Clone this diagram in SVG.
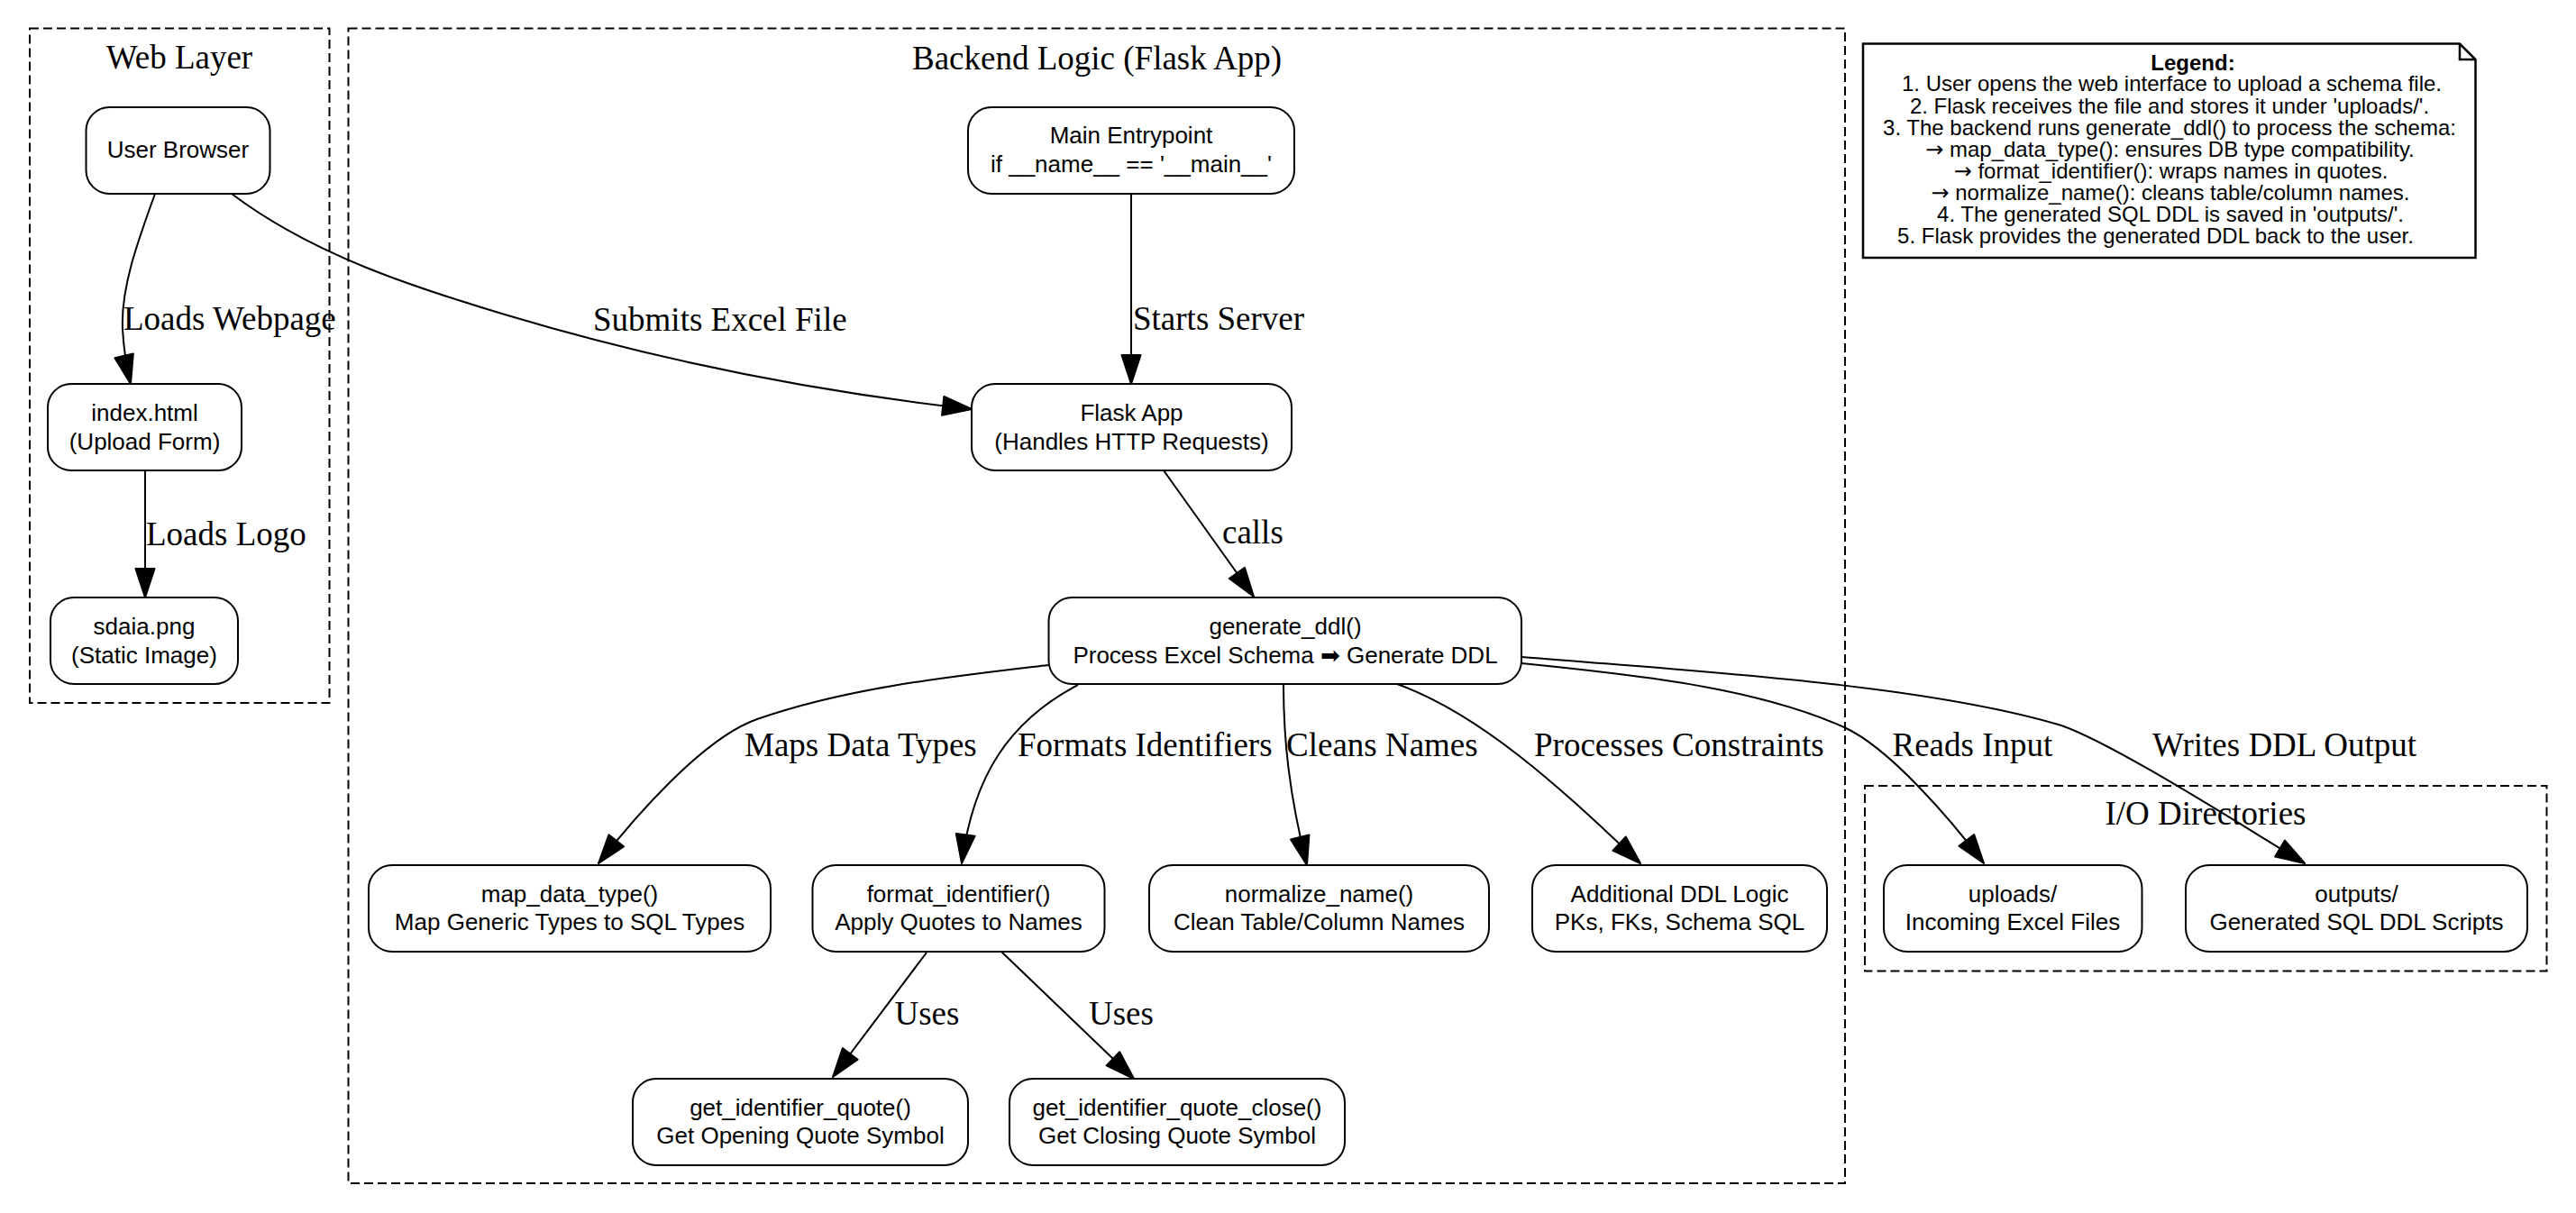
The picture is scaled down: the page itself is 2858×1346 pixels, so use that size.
<svg xmlns="http://www.w3.org/2000/svg" width="2858" height="1346" viewBox="0 0 2858 1346">
<defs>
<style>
.bg{fill:#fff}
.cl{fill:none;stroke:#000;stroke-width:2;stroke-dasharray:10,5}
.ct{font-family:"Liberation Serif","Times New Roman",serif;font-size:37px;text-anchor:middle;fill:#000}
.nd rect{fill:#fff;stroke:#000;stroke-width:2}
.nt{font-family:"Liberation Sans",Arial,"DejaVu Sans",sans-serif;font-size:26px;text-anchor:middle;fill:#000}
.ed{fill:none;stroke:#000;stroke-width:2;marker-end:url(#arr)}
.el{font-family:"Liberation Serif","Times New Roman",serif;font-size:37px;fill:#000}
.lg{font-family:"Liberation Sans",Arial,"DejaVu Sans",sans-serif;font-size:24px;text-anchor:middle;fill:#000}
.ar{font-family:"DejaVu Sans",sans-serif}
</style>
<marker id="arr" markerUnits="userSpaceOnUse" markerWidth="32" markerHeight="21" refX="32" refY="10.5" orient="auto" style="overflow:visible">
<path d="M0,0 L32,10.5 L0,21 Z" fill="#000" stroke="#000" stroke-width="2" stroke-linejoin="round"/>
</marker>
</defs>
<rect class="bg" x="0" y="0" width="2858" height="1346"/>

<g id="cluster_web">
<rect class="cl" x="33" y="31.5" width="332.5" height="748.5"/>
<text class="ct" x="199" y="75.5">Web Layer</text>
</g>
<g id="cluster_backend">
<rect class="cl" x="386.5" y="31.5" width="1660.5" height="1281.5"/>
<text class="ct" x="1217" y="76.5">Backend Logic (Flask App)</text>
</g>
<g id="cluster_io">
<rect class="cl" x="2069" y="872" width="756.5" height="205.5"/>
<text class="ct" x="2447" y="914.5">I/O Directories</text>
</g>

<g id="edges">
<path class="ed" d="M172,215 C152,270 134,320 136,365 C137,385 140,405 145,426"/>
<text class="el" x="137" y="366">Loads Webpage</text>
<path class="ed" d="M161,522 L161,663"/>
<text class="el" x="162" y="605">Loads Logo</text>
<path class="ed" d="M257,215 C347,283 460,319 560,349 C730,400 908,435 1078,454"/>
<text class="el" x="658" y="367">Submits Excel File</text>
<path class="ed" d="M1255,215 L1255,426"/>
<text class="el" x="1257" y="366">Starts Server</text>
<path class="ed" d="M1291,522 L1391,662"/>
<text class="el" x="1356" y="603">calls</text>
<path class="ed" d="M1163,738 C1053,751 940,763 840,798 C780,819 704,907 664,958"/>
<text class="el" x="826" y="839">Maps Data Types</text>
<path class="ed" d="M1196,760 C1120,800 1080,860 1067,958"/>
<text class="el" x="1129" y="839">Formats Identifiers</text>
<path class="ed" d="M1424,759 C1424,820 1430,880 1450,960"/>
<text class="el" x="1427" y="839">Cleans Names</text>
<path class="ed" d="M1550,759 C1650,795 1745,888 1820,958"/>
<text class="el" x="1702" y="839">Processes Constraints</text>
<path class="ed" d="M1688,736 C1808,748 1946,762 2046,807 C2096,829.5 2165,910 2201,958"/>
<text class="el" x="2099.5" y="839">Reads Input</text>
<path class="ed" d="M1688,729 C1888,745 2137,760 2287,805 C2347,826 2487,916 2557,958"/>
<text class="el" x="2388" y="839">Writes DDL Output</text>
<path class="ed" d="M1028,1057 L924,1195"/>
<text class="el" x="992.5" y="1137">Uses</text>
<path class="ed" d="M1111,1056 L1258,1197"/>
<text class="el" x="1208" y="1137">Uses</text>
</g>

<g id="user_browser" class="nd">
<rect x="95.5" y="119" width="204" height="96" rx="26"/>
<text class="nt" x="197.5" y="175">User Browser</text>
</g>
<g id="index_html" class="nd">
<rect x="53" y="426" width="215" height="96" rx="26"/>
<text class="nt" x="160.5" y="467">index.html</text>
<text class="nt" x="160.5" y="499">(Upload Form)</text>
</g>
<g id="sdaia_png" class="nd">
<rect x="56" y="663" width="208" height="96" rx="26"/>
<text class="nt" x="160" y="704">sdaia.png</text>
<text class="nt" x="160" y="736">(Static Image)</text>
</g>
<g id="main_entry" class="nd">
<rect x="1074" y="119" width="362" height="96" rx="26"/>
<text class="nt" x="1255" y="159">Main Entrypoint</text>
<text class="nt" x="1255" y="190.5">if __name__ == '__main__'</text>
</g>
<g id="flask_app" class="nd">
<rect x="1078" y="426" width="355" height="96" rx="26"/>
<text class="nt" x="1255.5" y="467">Flask App</text>
<text class="nt" x="1255.5" y="498.5">(Handles HTTP Requests)</text>
</g>
<g id="generate_ddl" class="nd">
<rect x="1163.5" y="663" width="524.5" height="96" rx="26"/>
<text class="nt" x="1426" y="704">generate_ddl()</text>
<text class="nt" x="1426" y="735.5">Process Excel Schema ➡ Generate DDL</text>
</g>
<g id="map_data_type" class="nd">
<rect x="409" y="960" width="446" height="96" rx="26"/>
<text class="nt" x="632" y="1000.5">map_data_type()</text>
<text class="nt" x="632" y="1032">Map Generic Types to SQL Types</text>
</g>
<g id="format_identifier" class="nd">
<rect x="901.5" y="960" width="324" height="96" rx="26"/>
<text class="nt" x="1063.5" y="1000.5">format_identifier()</text>
<text class="nt" x="1063.5" y="1032">Apply Quotes to Names</text>
</g>
<g id="normalize_name" class="nd">
<rect x="1275" y="960" width="377" height="96" rx="26"/>
<text class="nt" x="1463.5" y="1000.5">normalize_name()</text>
<text class="nt" x="1463.5" y="1032">Clean Table/Column Names</text>
</g>
<g id="additional_ddl" class="nd">
<rect x="1700" y="960" width="327" height="96" rx="26"/>
<text class="nt" x="1863.5" y="1000.5">Additional DDL Logic</text>
<text class="nt" x="1863.5" y="1032">PKs, FKs, Schema SQL</text>
</g>
<g id="uploads" class="nd">
<rect x="2090" y="960" width="286.5" height="96" rx="26"/>
<text class="nt" x="2233" y="1000.5">uploads/</text>
<text class="nt" x="2233" y="1032">Incoming Excel Files</text>
</g>
<g id="outputs" class="nd">
<rect x="2425" y="960" width="379" height="96" rx="26"/>
<text class="nt" x="2614.5" y="1000.5">outputs/</text>
<text class="nt" x="2614.5" y="1032">Generated SQL DDL Scripts</text>
</g>
<g id="get_identifier_quote" class="nd">
<rect x="702" y="1197" width="372" height="96" rx="26"/>
<text class="nt" x="888" y="1237.5">get_identifier_quote()</text>
<text class="nt" x="888" y="1269">Get Opening Quote Symbol</text>
</g>
<g id="get_identifier_quote_close" class="nd">
<rect x="1120" y="1197" width="372" height="96" rx="26"/>
<text class="nt" x="1306" y="1237.5">get_identifier_quote_close()</text>
<text class="nt" x="1306" y="1269">Get Closing Quote Symbol</text>
</g>

<g id="legend">
<path d="M2067,48.5 L2729,48.5 L2746.5,66 L2746.5,286 L2067,286 Z M2729,48.5 L2729,66 L2746.5,66" fill="#fff" stroke="#000" stroke-width="2.5"/>
<text class="lg" x="2433" y="77.5" font-weight="bold">Legend:</text>
<text class="lg" x="2409.5" y="101">1. User opens the web interface to upload a schema file.</text>
<text class="lg" x="2407" y="125.5">2. Flask receives the file and stores it under 'uploads/'.</text>
<text class="lg" x="2407" y="149.5">3. The backend runs generate_ddl() to process the schema:</text>
<text class="lg" x="2407.5" y="173.5"><tspan class="ar">→</tspan> map_data_type(): ensures DB type compatibility.</text>
<text class="lg" x="2408.5" y="197.5"><tspan class="ar">→</tspan> format_identifier(): wraps names in quotes.</text>
<text class="lg" x="2408" y="221.5"><tspan class="ar">→</tspan> normalize_name(): cleans table/column names.</text>
<text class="lg" x="2408" y="245.5">4. The generated SQL DDL is saved in 'outputs/'.</text>
<text class="lg" x="2391.5" y="269.5">5. Flask provides the generated DDL back to the user.</text>
</g>
</svg>
